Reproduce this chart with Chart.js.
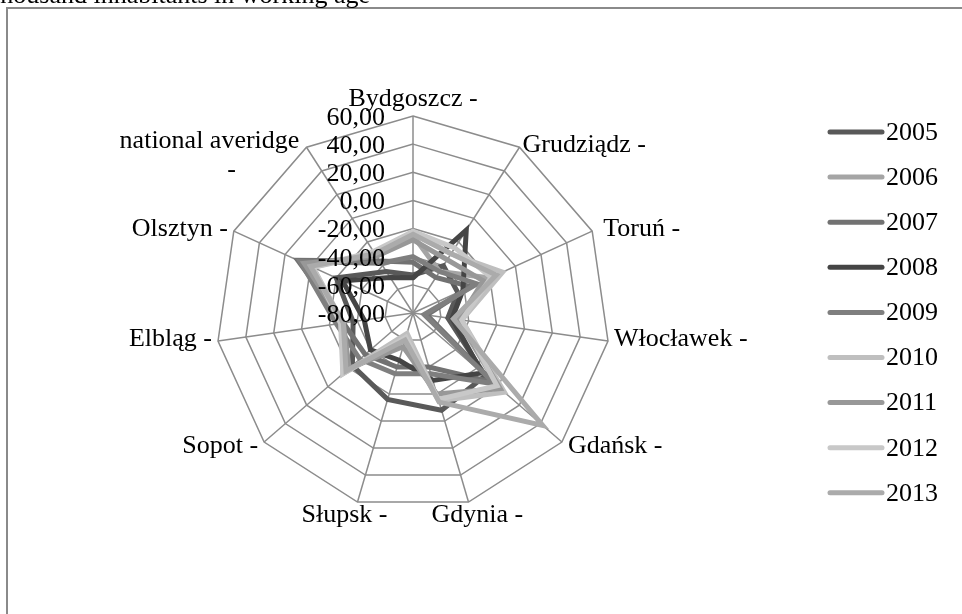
<!DOCTYPE html>
<html lang="en">
<head>
    <meta charset="UTF-8">
    <title>Radar chart</title>
    <script src="https://cdn.jsdelivr.net/npm/chart.js"></script>
    <style>
        html, body {
            margin: 0;
            padding: 0;
            background: #ffffff;
            overflow: hidden;
        }
        #wrap {
            position: relative;
            width: 962px;
            height: 614px;
        }
    </style>
</head>
<body>
    <div id="wrap"><canvas id="radarChart" width="962" height="614"></canvas></div>

    <script>
        // categories (axis labels)
        let cities = ["Bydgoszcz -", "Grudziądz -", "Toruń -", "Włocławek -", "Gdańsk -", "Gdynia -",
                      "Słupsk -", "Sopot -", "Elbląg -", "Olsztyn -", "national averidge -"];
        let years = ["2005", "2006", "2007", "2008", "2009", "2010", "2011", "2012", "2013"];
        let tickValues = [60, 40, 20, 0, -20, -40, -60, -80];

        // values, one array per year
        let y2005 = [-53, -40, -45, -55, -12, -8, -16, -23, -37, -20, -45];
        let y2006 = [-25, -45, -20, -48, 0, -16, -60, -15, -30, 0, -30];
        let y2007 = [-44, -50, -35, -70, -5, -40, -40, -35, -30, 10, -36];
        let y2008 = [-55, -10, -41, -52, -15, -30, -45, -40, -45, -25, -50];
        let y2009 = [-40, -45, -30, -72, -3, -35, -35, -30, -25, 8, -38];
        let y2010 = [-22, -30, -10, -45, 6, -15, -65, -14, -30, -2, -30];
        let y2011 = [-28, -35, -25, -47, 2, -20, -55, -20, -30, 5, -32];
        let y2012 = [-22, -25, -19, -45, -1, -16, -62, -14, -28, -2, -28];
        let y2013 = [-24, -30, -15, -51, 42, -14, -60, -17, -30, 0, -30];

        let seriesValues = [y2005, y2006, y2007, y2008, y2009, y2010, y2011, y2012, y2013];
        let seriesColors = ["#595959", "#a5a5a5", "#727272", "#454545", "#7f7f7f",
                            "#bfbfbf", "#989898", "#c8c8c8", "#ababab"];

        let fontFamily = "'Liberation Serif', 'Times New Roman', serif";

        // labels, ticks, legend, frame and the cut-off title are drawn here
        let decorPlugin = {
            id: "decor",
            beforeDraw(chart) {
                let ctx = chart.ctx;
                ctx.save();
                ctx.strokeStyle = "#8a8a8a";
                ctx.lineWidth = 2;
                ctx.beginPath();
                ctx.moveTo(7, 700);
                ctx.lineTo(7, 8);
                ctx.lineTo(1000, 8);
                ctx.stroke();
                ctx.fillStyle = "#000";
                ctx.font = "26px " + fontFamily;
                ctx.textAlign = "right";
                ctx.textBaseline = "alphabetic";
                ctx.fillText("per thousand inhabitants in working age", 370, 3);
                ctx.restore();
            },
            afterDraw(chart) {
                let ctx = chart.ctx;
                let scale = chart.scales.r;
                ctx.save();
                ctx.fillStyle = "#000";
                ctx.font = "26px " + fontFamily;

                // tick labels, right aligned left of the first axis
                ctx.textAlign = "right";
                ctx.textBaseline = "middle";
                tickValues.forEach(v => {
                    let d = scale.getDistanceFromCenterForValue(v);
                    ctx.fillText(v.toFixed(2).replace(".", ","), scale.xCenter - 28, scale.yCenter - d + 2);
                });

                // category labels
                let outer = scale.drawingArea;
                cities.forEach((name, i) => {
                    let p = scale.getPointPosition(i, outer);
                    let a = i / cities.length;
                    if (i === 0) {
                        ctx.textAlign = "center";
                        ctx.textBaseline = "bottom";
                        ctx.fillText(name, p.x, p.y - 4);
                    } else if (name === "national averidge -") {
                        ctx.textAlign = "center";
                        ctx.textBaseline = "middle";
                        ctx.fillText("national averidge", p.x - 97, p.y - 6);
                        ctx.fillText("-", p.x - 75, p.y + 23);
                    } else if (i === 5) {
                        ctx.textAlign = "left";
                        ctx.textBaseline = "middle";
                        ctx.fillText(name, p.x - 37, p.y + 13);
                    } else if (i === 6) {
                        ctx.textAlign = "right";
                        ctx.textBaseline = "middle";
                        ctx.fillText(name, p.x + 30, p.y + 13);
                    } else if (a < 0.5) {
                        let dx = i === 2 ? 11 : (i === 1 ? 3 : 6);
                        ctx.textAlign = "left";
                        ctx.textBaseline = "middle";
                        ctx.fillText(name, p.x + dx, p.y + (i === 4 ? 4 : -2));
                    } else {
                        ctx.textAlign = "right";
                        ctx.textBaseline = "middle";
                        ctx.fillText(name, p.x - 6, p.y + (i === 7 ? 4 : -2));
                    }
                });

                // legend on the right
                years.forEach((yr, i) => {
                    let ly = 132 + i * 45.1;
                    ctx.strokeStyle = seriesColors[i];
                    ctx.lineWidth = 5;
                    ctx.lineCap = "round";
                    ctx.beginPath();
                    ctx.moveTo(830, ly);
                    ctx.lineTo(882, ly);
                    ctx.stroke();
                    ctx.textAlign = "left";
                    ctx.textBaseline = "middle";
                    ctx.fillText(yr, 886, ly + 1);
                });
                ctx.restore();
            }
        };

        let datasets = years.map((yr, i) => ({
            label: yr,
            data: seriesValues[i],
            borderColor: seriesColors[i],
            backgroundColor: "transparent",
            borderWidth: 5,
            pointRadius: 0,
            fill: false,
            order: -i
        }));

        new Chart(document.getElementById("radarChart").getContext("2d"), {
            type: "radar",
            data: { labels: cities, datasets: datasets },
            options: {
                responsive: false,
                animation: false,
                layout: { padding: { left: 216, right: 352, top: 116, bottom: 104 } },
                plugins: {
                    legend: { display: false },
                    tooltip: { enabled: false },
                    title: { display: false }
                },
                scales: {
                    r: {
                        min: -80,
                        max: 60,
                        ticks: { stepSize: 20, display: false },
                        grid: { color: "#8c8c8c", lineWidth: 1.5 },
                        angleLines: { color: "#8c8c8c", lineWidth: 1.5 },
                        pointLabels: { display: false }
                    }
                }
            },
            plugins: [decorPlugin]
        });
    </script>
</body>
</html>
